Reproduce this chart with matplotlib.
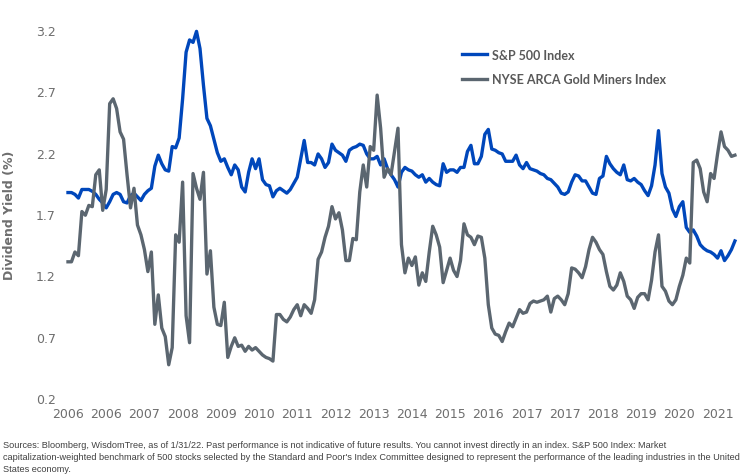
import matplotlib
matplotlib.use("Agg")
import matplotlib.pyplot as plt

# monthly dividend yields (%), Jan 2006 - Jan 2022
sp500 = [1.875, 1.875, 1.86, 1.83, 1.90, 1.90, 1.90, 1.885, 1.86, 1.82,
         1.79, 1.75, 1.80, 1.86, 1.875, 1.86, 1.80, 1.79, 1.85, 1.87,
         1.84, 1.81, 1.86, 1.89, 1.91, 2.09, 2.18, 2.11, 2.06, 2.05,
         2.25, 2.24, 2.32, 2.64, 3.02, 3.12, 3.10, 3.19, 3.05, 2.75,
         2.48, 2.42, 2.31, 2.20, 2.13, 2.15, 2.08, 2.02, 2.10, 2.06,
         1.92, 1.88, 2.04, 2.15, 2.07, 2.15, 1.98, 1.94, 1.93, 1.84,
         1.89, 1.91, 1.89, 1.87, 1.90, 1.95, 2.00, 2.15, 2.30, 2.12,
         2.12, 2.10, 2.19, 2.15, 2.08, 2.12, 2.27, 2.22, 2.20, 2.18,
         2.13, 2.22, 2.24, 2.25, 2.27, 2.26, 2.19, 2.15, 2.15, 2.17,
         2.10, 2.15, 2.07, 2.02, 1.98, 1.92, 2.04, 2.08, 2.06, 2.05,
         2.02, 2.00, 2.02, 1.96, 1.99, 1.96, 1.94, 1.93, 2.11, 2.04,
         2.06, 2.06, 2.04, 2.08, 2.08, 2.21, 2.26, 2.11, 2.11, 2.17,
         2.35, 2.39, 2.23, 2.22, 2.20, 2.19, 2.13, 2.13, 2.13, 2.18,
         2.10, 2.07, 2.12, 2.07, 2.06, 2.05, 2.03, 2.02, 1.99, 1.98,
         1.95, 1.92, 1.87, 1.86, 1.88, 1.96, 2.02, 2.01, 1.97, 1.97,
         1.92, 1.87, 1.86, 1.99, 2.01, 2.17, 2.11, 2.07, 2.04, 2.02,
         2.10, 1.98, 1.97, 1.99, 1.96, 1.94, 1.89, 1.85, 1.93, 2.10,
         2.38, 2.03, 1.92, 1.87, 1.74, 1.68, 1.76, 1.80, 1.59, 1.55,
         1.57, 1.52, 1.45, 1.42, 1.40, 1.39, 1.37, 1.34, 1.40, 1.32,
         1.36, 1.41, 1.48]

gold_miners = [1.31, 1.31, 1.39, 1.36, 1.72, 1.69, 1.77, 1.76, 2.02, 2.06,
               1.73, 1.90, 2.60, 2.64, 2.56, 2.37, 2.31, 2.02, 1.75, 1.91,
               1.61, 1.53, 1.41, 1.23, 1.39, 0.80, 1.04, 0.77, 0.70, 0.47,
               0.61, 1.53, 1.47, 1.96, 0.87, 0.65, 2.03, 1.91, 1.82, 2.04,
               1.21, 1.40, 0.94, 0.80, 0.79, 0.98, 0.53, 0.62, 0.69, 0.62,
               0.63, 0.58, 0.62, 0.59, 0.61, 0.58, 0.55, 0.53, 0.52, 0.50,
               0.88, 0.88, 0.84, 0.82, 0.86, 0.92, 0.96, 0.87, 0.96, 0.93,
               0.89, 1.00, 1.33, 1.39, 1.51, 1.60, 1.76, 1.66, 1.71, 1.57,
               1.32, 1.32, 1.50, 1.49, 1.88, 2.10, 1.92, 2.25, 2.22, 2.67,
               2.40, 2.00, 2.07, 2.02, 2.21, 2.40, 1.45, 1.22, 1.34, 1.28,
               1.35, 1.12, 1.22, 1.15, 1.39, 1.60, 1.53, 1.43, 1.14, 1.24,
               1.34, 1.24, 1.19, 1.32, 1.62, 1.53, 1.51, 1.45, 1.52, 1.51,
               1.34, 0.96, 0.77, 0.72, 0.71, 0.66, 0.74, 0.81, 0.78, 0.85,
               0.92, 0.89, 0.90, 0.97, 0.99, 0.98, 0.99, 1.00, 1.03, 0.90,
               1.01, 1.03, 1.00, 0.96, 1.05, 1.26, 1.25, 1.22, 1.18, 1.27,
               1.41, 1.51, 1.47, 1.41, 1.37, 1.23, 1.11, 1.08, 1.12, 1.22,
               1.15, 1.03, 1.00, 0.93, 1.02, 1.05, 1.05, 1.00, 1.16, 1.39,
               1.53, 1.11, 1.07, 0.99, 0.96, 1.00, 1.11, 1.20, 1.34, 1.30,
               2.12, 2.14, 2.07, 1.88, 1.80, 2.03, 1.99, 2.19, 2.37, 2.25,
               2.22, 2.17, 2.18]

# category axis labels, one every 11 months
tick_labels = ['2006', '2006', '2007', '2008', '2009', '2010', '2011', '2012', '2013',
               '2014', '2015', '2016', '2017', '2017', '2018', '2019', '2020', '2021']
y_ticks = [0.2, 0.7, 1.2, 1.7, 2.2, 2.7, 3.2]

blue = '#0047BB'
grey = '#5B6670'
text_grey = '#6E6E6E'

fig = plt.figure(figsize=(7.56, 4.77), dpi=100)
ax = fig.add_axes([60 / 756, 72 / 477, 685 / 756, 380 / 477])

x = list(range(len(sp500)))
ax.plot(x, sp500, color=blue, lw=2.4, label='S&P 500 Index', solid_joinstyle='round')
ax.plot(x, gold_miners, color=grey, lw=2.4, label='NYSE ARCA Gold Miners Index',
        solid_joinstyle='round')

ax.set_xlim(-2.3, 194.9)
ax.set_ylim(0.15, 3.25)
ax.set_yticks(y_ticks)
ax.set_yticklabels([f'{v:.1f}' for v in y_ticks])
ax.set_xticks([i * 11 for i in range(len(tick_labels))])
ax.set_xticklabels(tick_labels)
ax.tick_params(length=0, labelsize=9, labelcolor=text_grey)
ax.tick_params(axis='x', pad=2)
ax.tick_params(axis='y', pad=3)
for s in ax.spines.values():
    s.set_visible(False)

ax.set_ylabel('Dividend Yield (%)', fontsize=9, fontweight='bold', color=text_grey)
ax.yaxis.set_label_coords(-0.064, 0.5)

leg = ax.legend(loc='upper left', bbox_to_anchor=(0.57, 0.965), frameon=False,
                handlelength=2.0, handletextpad=0.4, labelspacing=1.0,
                prop={'weight': 'bold', 'size': 9, 'family': 'Lato'})
for t in leg.get_texts():
    t.set_color('#595959')

note = ("Sources: Bloomberg, WisdomTree, as of 1/31/22. Past performance is not indicative of future results. "
        "You cannot invest directly in an index. S&P 500 Index: Market\n"
        "capitalization-weighted benchmark of 500 stocks selected by the Standard and Poor's Index Committee "
        "designed to represent the performance of the leading industries in the United\n"
        "States economy.")
fig.text(3 / 756, 1 - 441 / 477, note, fontsize=6.6, color='#404040', va='top', ha='left',
         family='Liberation Sans', linespacing=1.4)

fig.savefig('out.png', dpi=100)
